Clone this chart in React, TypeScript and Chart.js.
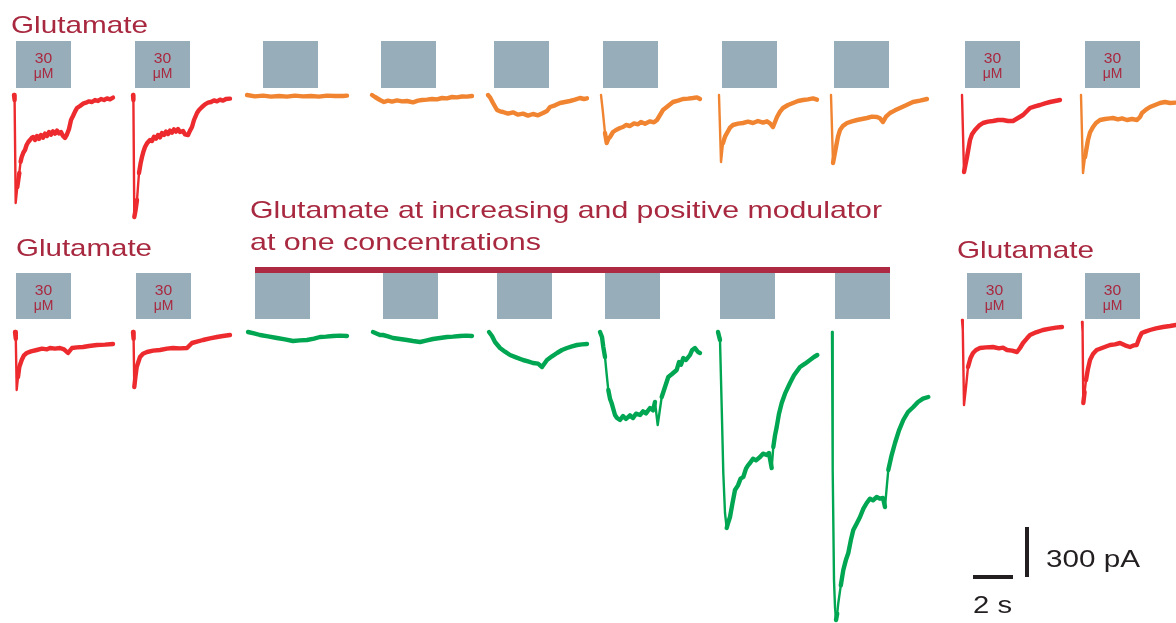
import React, { useEffect, useRef } from "react";
import { Chart, registerables } from "chart.js";

Chart.register(...registerables);

// ---------- DATA: each trace = [time from trace start (s), current (pA)] ----------
// Top row: glutamate alone (30 µM controls, increasing concentrations, washout)
const top1: [number, number][] = [[0,0],[0.03,-30],[0.085,-648],[0.165,-552],[0.265,-468],[0.33,-400],[0.385,-372],[0.47,-345],[0.55,-330],[0.63,-300],[0.715,-282],[0.8,-270],[0.88,-258],[0.965,-252],[1.05,-270],[1.15,-246],[1.25,-264],[1.35,-240],[1.45,-256],[1.55,-232],[1.65,-246],[1.75,-222],[1.85,-238],[1.95,-218],[2.05,-232],[2.15,-214],[2.25,-230],[2.35,-222],[2.45,-246],[2.55,-258],[2.65,-236],[2.75,-204],[2.85,-150],[2.95,-126],[3.05,-100],[3.15,-78],[3.3,-66],[3.45,-52],[3.6,-46],[3.75,-38],[3.9,-42],[4.05,-30],[4.2,-36],[4.35,-24],[4.5,-30],[4.65,-20],[4.8,-26],[4.95,-16]];
const top2: [number, number][] = [[0,0],[0.02,-30],[0.065,-732],[0.13,-690],[0.2,-630],[0.3,-468],[0.38,-410],[0.45,-372],[0.52,-340],[0.6,-312],[0.7,-290],[0.85,-270],[0.95,-276],[1.05,-250],[1.15,-262],[1.25,-240],[1.35,-254],[1.45,-228],[1.55,-240],[1.65,-220],[1.75,-234],[1.85,-214],[1.95,-226],[2.05,-206],[2.15,-220],[2.25,-204],[2.35,-222],[2.5,-216],[2.6,-236],[2.75,-240],[2.85,-214],[2.95,-192],[3.05,-150],[3.2,-108],[3.3,-90],[3.45,-72],[3.6,-56],[3.75,-46],[3.9,-42],[4.05,-32],[4.2,-38],[4.35,-28],[4.5,-34],[4.65,-24],[4.85,-22]];
const top3: [number, number][] = [[0,0],[0.4,-8],[0.8,-4],[1.2,-10],[1.6,-6],[2.0,-10],[2.4,-4],[2.8,-8],[3.2,-6],[3.6,-10],[4.0,-4],[4.4,-6],[4.8,-6],[5.0,-4]];
const top4: [number, number][] = [[0,0],[0.15,-12],[0.4,-30],[0.6,-42],[0.8,-34],[1.0,-40],[1.25,-32],[1.5,-38],[1.75,-36],[2.05,-44],[2.3,-34],[2.5,-30],[2.75,-28],[3.0,-24],[3.25,-26],[3.5,-18],[3.75,-20],[4.0,-12],[4.25,-14],[4.5,-9],[4.75,-10],[5.0,-6]];
const top5: [number, number][] = [[0,0],[0.1,-14],[0.25,-48],[0.45,-90],[0.6,-98],[0.75,-102],[1.0,-112],[1.25,-104],[1.5,-118],[1.75,-112],[2.0,-124],[2.25,-114],[2.5,-122],[2.75,-108],[2.95,-96],[3.1,-72],[3.35,-62],[3.6,-48],[3.85,-42],[4.1,-36],[4.35,-28],[4.6,-18],[4.8,-24],[4.95,-20]];
const top6: [number, number][] = [[0,0],[0.085,-90],[0.2,-228],[0.285,-288],[0.37,-262],[0.45,-252],[0.6,-222],[0.75,-210],[0.95,-198],[1.1,-192],[1.25,-180],[1.45,-186],[1.65,-170],[1.85,-176],[2.0,-162],[2.2,-172],[2.45,-158],[2.65,-164],[2.8,-150],[2.95,-120],[3.1,-90],[3.35,-66],[3.6,-42],[3.85,-34],[4.1,-24],[4.35,-22],[4.6,-18],[4.8,-14],[4.95,-24]];
const top7: [number, number][] = [[0,0],[0.1,-402],[0.2,-288],[0.3,-250],[0.4,-228],[0.55,-196],[0.7,-180],[0.95,-172],[1.2,-168],[1.45,-160],[1.7,-168],[1.95,-156],[2.2,-166],[2.4,-158],[2.55,-170],[2.7,-192],[2.9,-132],[3.05,-100],[3.2,-78],[3.45,-60],[3.7,-48],[3.95,-36],[4.2,-30],[4.45,-26],[4.7,-20],[4.9,-28]];
const top8: [number, number][] = [[0,0],[0.1,-408],[0.25,-312],[0.35,-250],[0.45,-210],[0.6,-185],[0.8,-168],[1.05,-158],[1.3,-150],[1.55,-144],[1.8,-138],[2.05,-130],[2.3,-132],[2.45,-140],[2.6,-162],[2.75,-130],[2.95,-108],[3.2,-92],[3.45,-78],[3.75,-62],[4.1,-42],[4.45,-34],[4.8,-24]];
const top9: [number, number][] = [[0,0],[0.1,-462],[0.25,-372],[0.4,-270],[0.5,-236],[0.65,-210],[0.85,-184],[1.05,-168],[1.3,-160],[1.55,-156],[1.8,-150],[2.05,-150],[2.3,-156],[2.55,-156],[2.8,-138],[3.05,-120],[3.25,-96],[3.4,-78],[3.65,-68],[3.9,-60],[4.15,-50],[4.4,-42],[4.65,-36],[4.9,-30]];
const top10: [number, number][] = [[0,0],[0.1,-468],[0.2,-372],[0.35,-270],[0.45,-225],[0.6,-192],[0.75,-168],[0.95,-150],[1.2,-144],[1.45,-140],[1.6,-138],[1.85,-146],[2.05,-140],[2.3,-150],[2.55,-144],[2.8,-150],[2.95,-132],[3.05,-108],[3.25,-88],[3.45,-72],[3.7,-60],[3.95,-48],[4.2,-42],[4.45,-48],[4.75,-46],[5.0,-40]];

// Bottom row: glutamate at increasing concentrations + positive modulator
const bottom1: [number, number][] = [[0,0],[0.04,-40],[0.085,-348],[0.15,-270],[0.215,-210],[0.335,-168],[0.45,-140],[0.585,-126],[0.8,-116],[1.085,-108],[1.35,-100],[1.6,-104],[1.75,-96],[2.0,-100],[2.25,-96],[2.45,-104],[2.65,-126],[2.85,-96],[3.1,-92],[3.4,-90],[3.7,-84],[4.1,-78],[4.5,-76],[4.9,-72]];
const bottom2: [number, number][] = [[0,0],[0.03,-40],[0.065,-330],[0.12,-270],[0.185,-210],[0.35,-150],[0.5,-130],[0.7,-120],[1.0,-112],[1.35,-108],[1.7,-100],[2.0,-96],[2.35,-98],[2.7,-96],[2.95,-66],[3.2,-58],[3.5,-48],[3.85,-38],[4.2,-30],[4.5,-24],[4.85,-18]];
const bottom3: [number, number][] = [[0,0],[0.3,-8],[0.6,-18],[1.0,-26],[1.45,-36],[1.85,-44],[2.25,-54],[2.6,-50],[2.95,-48],[3.3,-40],[3.6,-30],[3.9,-28],[4.25,-24],[4.6,-22],[4.95,-24]];
const bottom4: [number, number][] = [[0,0],[0.2,-10],[0.35,-18],[0.5,-18],[0.75,-26],[1.0,-36],[1.35,-42],[1.7,-48],[2.0,-54],[2.35,-60],[2.65,-52],[3.0,-42],[3.35,-36],[3.7,-30],[4.0,-28],[4.35,-24],[4.65,-22],[4.95,-24]];
const bottom5: [number, number][] = [[0,0],[0.15,-24],[0.3,-60],[0.55,-96],[0.8,-118],[1.05,-138],[1.35,-152],[1.7,-168],[1.95,-176],[2.2,-186],[2.45,-190],[2.65,-210],[2.9,-168],[3.15,-146],[3.4,-126],[3.65,-108],[3.9,-96],[4.15,-86],[4.4,-78],[4.65,-74],[4.9,-72]];
const bottom6: [number, number][] = [[0,0],[0.1,-30],[0.165,-90],[0.25,-150],[0.33,-250],[0.415,-348],[0.5,-400],[0.585,-428],[0.75,-498],[0.85,-516],[1.0,-528],[1.15,-504],[1.3,-522],[1.5,-500],[1.65,-516],[1.8,-490],[2.0,-498],[2.15,-476],[2.3,-488],[2.5,-456],[2.65,-470],[2.75,-420],[2.885,-558],[3.085,-390],[3.25,-330],[3.415,-270],[3.6,-252],[3.835,-228],[3.95,-180],[4.05,-196],[4.165,-156],[4.3,-168],[4.5,-138],[4.6,-110],[4.75,-96],[4.9,-120],[5.0,-126]];
const bottom7: [number, number][] = [[0,0],[0.1,-48],[0.185,-450],[0.265,-846],[0.35,-1086],[0.435,-1176],[0.52,-1140],[0.6,-1110],[0.72,-1030],[0.85,-948],[1.0,-920],[1.13,-880],[1.265,-870],[1.4,-820],[1.5,-800],[1.6,-786],[1.75,-760],[1.9,-770],[2.1,-750],[2.25,-730],[2.435,-738],[2.55,-726],[2.685,-816],[2.765,-690],[2.85,-620],[2.935,-570],[3.05,-490],[3.185,-426],[3.35,-370],[3.6,-306],[3.8,-260],[4.1,-210],[4.35,-190],[4.6,-168],[4.8,-150],[4.965,-138]];
const bottom8: [number, number][] = [[0,0],[0.035,-828],[0.1,-1488],[0.15,-1650],[0.2,-1728],[0.26,-1690],[0.315,-1626],[0.44,-1520],[0.565,-1428],[0.69,-1370],[0.815,-1326],[0.94,-1250],[1.065,-1188],[1.23,-1150],[1.4,-1110],[1.57,-1060],[1.735,-1026],[1.9,-1000],[2.05,-1010],[2.235,-990],[2.4,-1000],[2.55,-996],[2.65,-1050],[2.73,-940],[2.815,-828],[2.98,-740],[3.15,-666],[3.35,-590],[3.565,-528],[3.8,-480],[4.065,-450],[4.3,-420],[4.55,-400],[4.815,-390]];
const bottom9: [number, number][] = [[0,0],[0.04,-60],[0.1,-510],[0.2,-402],[0.3,-282],[0.42,-230],[0.55,-198],[0.7,-180],[0.9,-168],[1.2,-164],[1.55,-162],[1.85,-170],[2.05,-166],[2.25,-180],[2.5,-184],[2.75,-192],[2.9,-168],[3.05,-138],[3.25,-110],[3.4,-90],[3.7,-74],[4.05,-60],[4.4,-52],[4.7,-46],[5.0,-42]];
const bottom10: [number, number][] = [[0,0],[0.03,-60],[0.065,-486],[0.13,-420],[0.2,-348],[0.3,-280],[0.4,-228],[0.55,-192],[0.735,-168],[1.0,-156],[1.4,-138],[1.65,-134],[1.9,-126],[2.15,-140],[2.4,-150],[2.6,-140],[2.735,-138],[2.85,-100],[2.985,-66],[3.2,-56],[3.4,-48],[3.7,-38],[4.05,-30],[4.4,-24],[4.7,-18],[5.0,-14]];

const topTraces = [top1, top2, top3, top4, top5, top6, top7, top8, top9, top10];
const bottomTraces = [bottom1, bottom2, bottom3, bottom4, bottom5, bottom6, bottom7, bottom8, bottom9, bottom10];

// Labels
const titleTop = "Glutamate";
const titleBottomLeft = "Glutamate";
const titleBottomRight = "Glutamate";
const modulatorLine1 = "Glutamate at increasing and positive modulator";
const modulatorLine2 = "at one concentrations";
const doseLine1 = "30";
const doseLine2 = "μM";
const scaleCurrentLabel = "300 pA";
const scaleTimeLabel = "2 s";
const scaleTime = 2; // s
const scaleCurrent = 300; // pA

// ---------- LAYOUT (figure frame: x in s, y in pA) ----------
const X_MAX = 58.8;
const Y_MIN = -3738;
const topStarts = [0.7, 6.65, 12.35, 18.6, 24.4, 30.05, 35.95, 41.55, 48.1, 54.05];
const topBaselines = [-570, -570, -570, -570, -570, -570, -570, -570, -570, -570];
const bottomStarts = [0.75, 6.65, 12.4, 18.65, 24.45, 30.0, 35.9, 41.6, 48.1, 54.1];
const bottomBaselines = [-1992, -1992, -1992, -1992, -1992, -1992, -1992, -1992, -1920, -1932];
const topBoxStarts = [0.8, 6.75, 13.15, 19.05, 24.7, 30.15, 36.1, 41.7, 48.25, 54.25];
const bottomBoxStarts = [0.8, 6.8, 12.75, 19.15, 24.85, 30.25, 36.0, 41.75, 48.35, 54.25];
const BOX_DUR = 2.75;
const topBoxBand = [-246, -528];
const bottomBoxBand = [-1638, -1914];
const labelledBoxes = [0, 1, 8, 9];
const modulatorBar = { x0: 12.75, x1: 44.5, y0: -1602, y1: -1638 };
const scaleBarOrigin = { x: 48.65, y: -3462, vx: 51.35 };

// ---------- STYLES ----------
const RED = "#ed2a2d";
const ORANGE = "#f08431";
const GREEN = "#00a651";
const BOX = "#98adba";
const MAROON = "#a8283f";
const BAR = "#ae2a43";
const INK = "#231f20";
const topColors = [RED, RED, ORANGE, ORANGE, ORANGE, ORANGE, ORANGE, ORANGE, RED, ORANGE];
const bottomColors = [RED, RED, GREEN, GREEN, GREEN, GREEN, GREEN, GREEN, RED, RED];
const FONT = "'Liberation Sans', Arial, Helvetica, sans-serif";
const TRACE_WIDTH = 4.4;
const STEEP_WIDTH = 2.4;

function drawFitted(ctx: CanvasRenderingContext2D, text: string, x: number, y: number, width: number, size: number, color: string) {
  ctx.save();
  ctx.font = `${size}px ${FONT}`;
  ctx.fillStyle = color;
  ctx.textAlign = "left";
  ctx.textBaseline = "alphabetic";
  const w = ctx.measureText(text).width;
  ctx.translate(x, y);
  ctx.scale(width / w, 1);
  ctx.fillText(text, 0, 0);
  ctx.restore();
}

function drawCentered(ctx: CanvasRenderingContext2D, text: string, cx: number, y: number, size: number, sx: number, color: string) {
  ctx.save();
  ctx.font = `${size}px ${FONT}`;
  ctx.fillStyle = color;
  ctx.textAlign = "center";
  ctx.textBaseline = "alphabetic";
  ctx.translate(cx, y);
  ctx.scale(sx, 1);
  ctx.fillText(text, 0, 0);
  ctx.restore();
}

const figurePlugin = {
  id: "figureDecorations",
  beforeDatasetsDraw(chart: any) {
    const { ctx, scales } = chart;
    const xs = scales.x;
    const ys = scales.y;
    ctx.save();
    const rows = [
      { starts: topBoxStarts, band: topBoxBand },
      { starts: bottomBoxStarts, band: bottomBoxBand },
    ];
    rows.forEach((row) => {
      row.starts.forEach((s, i) => {
        const x0 = xs.getPixelForValue(s);
        const x1 = xs.getPixelForValue(s + BOX_DUR);
        const y0 = ys.getPixelForValue(row.band[0]);
        const y1 = ys.getPixelForValue(row.band[1]);
        ctx.fillStyle = BOX;
        ctx.fillRect(x0, y0, x1 - x0, y1 - y0);
        if (labelledBoxes.includes(i)) {
          const cx = (x0 + x1) / 2;
          drawCentered(ctx, doseLine1, cx, y0 + 22, 14, 1.12, MAROON);
          drawCentered(ctx, doseLine2, cx, y0 + 36.5, 14, 1.0, MAROON);
        }
      });
    });
    // modulator application bar
    const bx0 = xs.getPixelForValue(modulatorBar.x0);
    const bx1 = xs.getPixelForValue(modulatorBar.x1);
    const by0 = ys.getPixelForValue(modulatorBar.y0);
    const by1 = ys.getPixelForValue(modulatorBar.y1);
    ctx.fillStyle = BAR;
    ctx.fillRect(bx0, by0, bx1 - bx0, by1 - by0);
    ctx.restore();
  },
  afterDatasetsDraw(chart: any) {
    const { ctx, scales } = chart;
    const xs = scales.x;
    const ys = scales.y;
    ctx.save();
    // scale bars
    ctx.strokeStyle = INK;
    ctx.lineWidth = 4;
    ctx.lineCap = "butt";
    const hx0 = xs.getPixelForValue(scaleBarOrigin.x);
    const hx1 = xs.getPixelForValue(scaleBarOrigin.x + scaleTime);
    const hy = ys.getPixelForValue(scaleBarOrigin.y);
    ctx.beginPath();
    ctx.moveTo(hx0, hy);
    ctx.lineTo(hx1, hy);
    ctx.stroke();
    const vx = xs.getPixelForValue(scaleBarOrigin.vx);
    const vy0 = ys.getPixelForValue(scaleBarOrigin.y);
    const vy1 = ys.getPixelForValue(scaleBarOrigin.y + scaleCurrent);
    ctx.beginPath();
    ctx.moveTo(vx, vy0);
    ctx.lineTo(vx, vy1);
    ctx.stroke();
    ctx.restore();

    drawFitted(ctx, titleTop, 11, 33, 137, 24, MAROON);
    drawFitted(ctx, titleBottomLeft, 16, 256, 136, 24, MAROON);
    drawFitted(ctx, titleBottomRight, 957, 258, 137, 24, MAROON);
    drawFitted(ctx, modulatorLine1, 250, 218, 632, 24, MAROON);
    drawFitted(ctx, modulatorLine2, 250, 250, 291, 24, MAROON);
    drawFitted(ctx, scaleCurrentLabel, vx + 19, vy0 - 10, 94, 24, INK);
    drawFitted(ctx, scaleTimeLabel, hx0, hy + 36, 39, 24, INK);
  },
};

function buildDatasets() {
  const sets: any[] = [];
  const rows = [
    { traces: topTraces, starts: topStarts, bases: topBaselines, colors: topColors },
    { traces: bottomTraces, starts: bottomStarts, bases: bottomBaselines, colors: bottomColors },
  ];
  rows.forEach((row) => {
    row.traces.forEach((trace, i) => {
      sets.push({
        data: trace.map(([t, pA]) => ({ x: row.starts[i] + t, y: row.bases[i] + pA })),
        borderColor: row.colors[i],
        borderWidth: TRACE_WIDTH,
        borderCapStyle: "round",
        borderJoinStyle: "round",
        pointRadius: 0,
        tension: 0,
        fill: false,
        segment: {
          borderWidth: (c: any) =>
            Math.abs(c.p1.y - c.p0.y) > 4 * Math.abs(c.p1.x - c.p0.x) + 6 ? STEEP_WIDTH : TRACE_WIDTH,
        },
      });
    });
  });
  return sets;
}

export default function App() {
  const canvasRef = useRef<HTMLCanvasElement | null>(null);
  useEffect(() => {
    if (!canvasRef.current) return;
    const chart = new Chart(canvasRef.current, {
      type: "line",
      data: { datasets: buildDatasets() },
      options: {
        animation: false,
        responsive: false,
        events: [],
        layout: { padding: 0 },
        plugins: {
          legend: { display: false },
          tooltip: { enabled: false },
          title: { display: false },
        },
        scales: {
          x: { type: "linear", display: false, min: 0, max: X_MAX },
          y: { type: "linear", display: false, min: Y_MIN, max: 0 },
        },
      },
      plugins: [figurePlugin],
    } as any);
    return () => chart.destroy();
  }, []);
  return (
    <div style={{ position: "fixed", left: 0, top: 0, width: 1176, height: 623, background: "#ffffff" }}>
      <canvas ref={canvasRef} width={1176} height={623} style={{ display: "block" }} />
    </div>
  );
}
